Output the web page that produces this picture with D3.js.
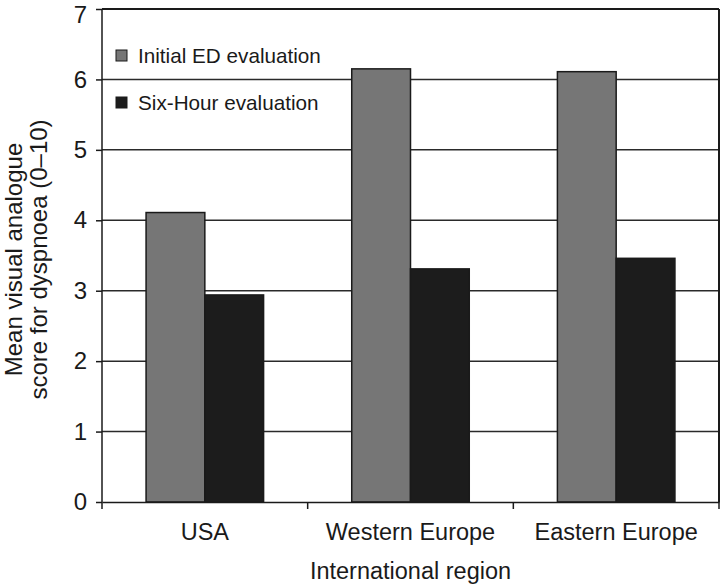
<!DOCTYPE html>
<html>
<head>
<meta charset="utf-8">
<script src="https://cdn.jsdelivr.net/npm/d3@7"></script>
<style>
  html, body { margin: 0; padding: 0; background: #fff; }
  svg { display: block; }
  text { font-family: "Liberation Sans", Arial, Helvetica, sans-serif; fill: #1a1a1a; }
</style>
</head>
<body>
<svg id="chart" width="720" height="584"></svg>
<script>
const categories = ["USA", "Western Europe", "Eastern Europe"];
const seriesNames = ["Initial ED evaluation", "Six-Hour evaluation"];
const initialED = [4.11, 6.15, 6.11];
const sixHour = [2.94, 3.31, 3.46];
const yTicks = [0, 1, 2, 3, 4, 5, 6, 7];
const seriesColors = ["#767676", "#1c1c1c"];

const svg = d3.select("#chart");
const mLeft = 102, mRight = 719, mTop = 9, mBottom = 502;

const x = d3.scaleBand().domain(categories).range([mLeft, mRight]).paddingInner(0).paddingOuter(0);
const inner = d3.scaleBand().domain(seriesNames).range([0, x.bandwidth()]).paddingInner(0).paddingOuter(0.75);
const y = d3.scaleLinear().domain([0, 7]).range([mBottom, mTop]);

// gridlines
svg.append("g").selectAll("line").data(yTicks.filter(d => d > 0)).join("line")
  .attr("x1", mLeft).attr("x2", mRight)
  .attr("y1", d => y(d)).attr("y2", d => y(d))
  .attr("stroke", "#2a2a2a").attr("stroke-width", 1.5);

// right border
svg.append("line").attr("x1", mRight).attr("x2", mRight).attr("y1", mTop).attr("y2", mBottom)
  .attr("stroke", "#1a1a1a").attr("stroke-width", 2);

// bars
const data = categories.map((c, i) => ({c, vals: [initialED[i], sixHour[i]]}));
const groups = svg.append("g").selectAll("g").data(data).join("g")
  .attr("transform", d => `translate(${x(d.c)},0)`);
groups.selectAll("rect").data(d => d.vals.map((v, j) => ({s: seriesNames[j], v, j}))).join("rect")
  .attr("x", d => inner(d.s))
  .attr("width", inner.bandwidth())
  .attr("y", d => y(d.v))
  .attr("height", d => y(0) - y(d.v))
  .attr("fill", d => seriesColors[d.j])
  .attr("stroke", "#1a1a1a").attr("stroke-width", 1.5);

// y axis
const yAxis = svg.append("g").attr("transform", `translate(${mLeft},0)`)
  .call(d3.axisLeft(y).tickValues(yTicks).tickSize(6).tickPadding(9).tickFormat(d3.format("d")));
yAxis.selectAll("path, line").attr("stroke", "#1a1a1a").attr("stroke-width", 1.5);
yAxis.select(".domain").attr("d", `M-0,${y(7)}V${y(0)}`);
yAxis.selectAll("text").attr("font-size", 24).attr("fill", "#1a1a1a")
  .attr("font-family", "'Liberation Sans', Arial, sans-serif");
yAxis.selectAll(".tick").filter(d => d === 7).select("text").attr("dy", "0.55em");

// x axis
const xAxis = svg.append("g").attr("transform", `translate(0,${mBottom})`)
  .call(d3.axisBottom(x).tickSize(0).tickPadding(21));
xAxis.select(".domain").attr("stroke", "#1a1a1a").attr("stroke-width", 1.5);
xAxis.selectAll("text").attr("font-size", 23.5).attr("fill", "#1a1a1a")
  .attr("font-family", "'Liberation Sans', Arial, sans-serif");
// boundary ticks
const boundaries = categories.map(c => x(c)).concat([x(categories[categories.length - 1]) + x.bandwidth()]);
svg.append("g").selectAll("line").data(boundaries).join("line")
  .attr("x1", d => d).attr("x2", d => d)
  .attr("y1", mBottom).attr("y2", mBottom + 7)
  .attr("stroke", "#1a1a1a").attr("stroke-width", 1.5);

// top border
svg.append("line").attr("x1", mLeft).attr("x2", mRight).attr("y1", mTop).attr("y2", mTop)
  .attr("stroke", "#1a1a1a").attr("stroke-width", 2);

// axis titles
svg.append("text").attr("x", (mLeft + mRight) / 2).attr("y", 579)
  .attr("text-anchor", "middle").attr("font-size", 23.5).text("International region");
const yt = svg.append("text").attr("transform", `translate(0,${(mTop + mBottom) / 2 + 4}) rotate(-90)`)
  .attr("text-anchor", "middle").attr("font-size", 24);
yt.append("tspan").attr("x", 0).attr("y", 22).text("Mean visual analogue");
yt.append("tspan").attr("x", 0).attr("y", 47).text("score for dyspnoea (0\u201310)");

// legend
const legend = svg.append("g").selectAll("g").data(seriesNames).join("g")
  .attr("transform", (d, i) => `translate(116,${50 + i * 47})`);
legend.append("rect").attr("width", 11).attr("height", 11)
  .attr("fill", (d, i) => seriesColors[i]).attr("stroke", "#1a1a1a").attr("stroke-width", 1);
legend.append("text").attr("x", 22).attr("y", 13).attr("font-size", 20.7).text(d => d);
</script>
</body>
</html>
